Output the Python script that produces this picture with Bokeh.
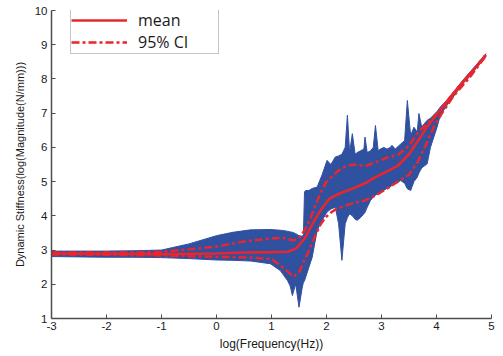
from bokeh.plotting import figure
from bokeh.models import Legend, LegendItem, FixedTicker, Range1d
from bokeh.embed import file_html
from bokeh.resources import INLINE

# ---- data ----
x_ticks = [-3, -2, -1, 0, 1, 2, 3, 4, 5]
x_tick_labels = ["-3", "-2", "-1", "0", "1", "2", "3", "4", "5"]
y_ticks = [1, 2, 3, 4, 5, 6, 7, 8, 9, 10]

mean_x = [-3, -2, -1, 0, 0.5, 1.0, 1.3, 1.45, 1.6, 1.75, 1.9, 2.05, 2.25, 2.45, 2.7,
          2.9, 3.1, 3.3, 3.5, 3.7, 3.85, 4.0, 4.25, 4.5, 4.75, 4.9]
mean_y = [2.90, 2.89, 2.88, 2.90, 2.93, 2.94, 2.95, 3.05, 3.33, 3.78, 4.18, 4.50, 4.66,
          4.78, 4.95, 5.14, 5.30, 5.47, 5.80, 6.28, 6.65, 6.95, 7.47, 7.95, 8.40, 8.70]

ci_x = [-3, -2, -1.5, -1, -0.5, 0, 0.5, 1.0, 1.2, 1.4, 1.5, 1.6, 1.7, 1.8, 1.9, 2.0,
        2.1, 2.2, 2.35, 2.5, 2.7, 2.9, 3.1, 3.3, 3.5, 3.65, 3.8, 3.95, 4.1, 4.3, 4.6, 4.9]
ci_upper = [2.93, 2.93, 2.93, 2.95, 3.02, 3.10, 3.25, 3.34, 3.36, 3.28, 3.35, 3.57, 3.90,
            4.30, 4.70, 5.00, 5.15, 5.30, 5.45, 5.50, 5.45, 5.57, 5.70, 5.78, 6.05, 6.40,
            6.65, 6.88, 7.15, 7.55, 8.10, 8.72]
ci_lower = [2.87, 2.86, 2.85, 2.84, 2.82, 2.80, 2.79, 2.74, 2.50, 2.22, 2.35, 2.70, 3.05,
            3.45, 3.77, 3.98, 4.12, 4.22, 4.30, 4.38, 4.45, 4.60, 4.80, 5.00, 5.20, 5.55,
            6.05, 6.60, 7.00, 7.48, 8.04, 8.68]

band_x = [-3.0, -2.5, -2.0, -1.5, -1.0, -0.5, 0.0, 0.3, 0.62, 0.98, 1.16, 1.29, 1.34,
          1.38, 1.44, 1.50, 1.56, 1.58, 1.60, 1.62, 1.68, 1.74, 1.83, 1.92, 2.01, 2.08,
          2.16, 2.22, 2.28, 2.34, 2.38, 2.42, 2.47, 2.52, 2.56, 2.62, 2.68, 2.70, 2.74,
          2.80, 2.85, 2.89, 2.94, 2.98, 3.04, 3.10, 3.16, 3.19, 3.25, 3.35, 3.42, 3.47,
          3.53, 3.59, 3.65, 3.68, 3.73, 3.83, 3.89, 4.01, 4.07, 4.20, 4.50, 4.90]
band_low = [2.81, 2.80, 2.79, 2.79, 2.78, 2.75, 2.71, 2.70, 2.68, 2.60, 2.40, 2.11, 1.95,
            1.67, 2.01, 1.33, 1.92, 2.05, 2.10, 2.20, 2.50, 2.79, 3.57, 3.87, 4.11, 4.20,
            4.25, 3.77, 2.70, 3.77, 3.95, 4.06, 4.00, 3.90, 3.87, 3.95, 4.06, 4.10, 4.25,
            4.45, 4.55, 4.60, 4.65, 4.69, 4.75, 4.80, 4.84, 4.90, 4.95, 5.03, 4.95, 4.79,
            4.74, 5.00, 5.13, 5.25, 5.40, 5.52, 6.00, 6.59, 6.95, 7.25, 7.90, 8.66]
band_high = [2.97, 2.97, 2.97, 2.98, 3.00, 3.18, 3.42, 3.52, 3.59, 3.60, 3.58, 3.55, 3.53,
             3.52, 3.48, 3.42, 3.40, 3.45, 4.70, 4.74, 4.74, 4.80, 4.84, 5.20, 5.62, 5.50,
             5.72, 5.75, 5.80, 6.00, 6.94, 5.85, 6.40, 5.80, 5.85, 5.90, 5.95, 6.30, 5.85,
             5.90, 6.00, 6.64, 5.90, 5.95, 6.00, 5.95, 6.00, 6.06, 5.95, 6.10, 6.20, 7.37,
             6.35, 6.59, 6.45, 6.99, 6.60, 6.79, 6.85, 7.05, 7.18, 7.40, 8.00, 8.74]

BLUE = "#3050a0"
RED = "#e8262e"
AXIS = "#4d4d4d"

p = figure(width=503, height=356, output_backend="svg", toolbar_location=None,
           x_range=Range1d(-3, 5), y_range=Range1d(1, 10),
           min_border_left=51, min_border_right=12, min_border_top=10, min_border_bottom=38)

p.varea(x=band_x, y1=band_low, y2=band_high, fill_color=BLUE, fill_alpha=1)
p.line(band_x, band_low, line_color=BLUE, line_width=1)
p.line(band_x, band_high, line_color=BLUE, line_width=1)

r_up = p.line(ci_x, ci_upper, line_color=RED, line_width=2.5, line_dash="8 3 3 3")
r_lo = p.line(ci_x, ci_lower, line_color=RED, line_width=2.5, line_dash="8 3 3 3")
r_mean = p.line(mean_x, mean_y, line_color=RED, line_width=2.6)

# axes
p.xgrid.visible = False
p.ygrid.visible = False
p.outline_line_color = None
p.xaxis.ticker = FixedTicker(ticks=x_ticks)
p.yaxis.ticker = FixedTicker(ticks=y_ticks)
p.xaxis.major_label_overrides = {t: s for t, s in zip(x_ticks, x_tick_labels)}
for ax in (p.xaxis, p.yaxis):
    ax.axis_line_color = AXIS
    ax.axis_line_width = 1.5
    ax.major_tick_line_color = AXIS
    ax.major_tick_in = 4
    ax.major_tick_out = 0
    ax.minor_tick_line_color = None
    ax.major_label_text_font = "Liberation Sans"
    ax.major_label_text_font_size = "11.5px"
    ax.major_label_text_color = "#1a1a1a"
    ax.axis_label_text_font = "Liberation Sans"
    ax.axis_label_text_font_style = "normal"
    ax.axis_label_text_color = "#1a1a1a"
p.xaxis.axis_label = "log(Frequency(Hz))"
p.yaxis.axis_label = "Dynamic Stiffness(log(Magnitude(N/mm)))"
p.xaxis.axis_label_text_font_size = "12px"
p.yaxis.axis_label_text_font_size = "11px"
p.xaxis.major_label_standoff = 3
p.xaxis.axis_label_standoff = 4
p.yaxis.major_label_standoff = 4
p.yaxis.axis_label_standoff = 6

legend = Legend(items=[LegendItem(label="mean", renderers=[r_mean]),
                       LegendItem(label="95% CI", renderers=[r_up])],
                location=(19, 264))
legend.label_text_font = "Open Sans"
legend.label_text_font_size = "16px"
legend.label_text_color = "#1a1a1a"
legend.border_line_color = "#8c8c8c"
legend.border_line_width = 1
legend.padding = 0
legend.spacing = 0
legend.margin = 0
legend.glyph_width = 56
legend.glyph_height = 22
legend.label_height = 22
legend.label_standoff = 11
legend.label_width = 80
legend.background_fill_alpha = 1
p.add_layout(legend)

open("out.html", "w").write(file_html(p, INLINE))
